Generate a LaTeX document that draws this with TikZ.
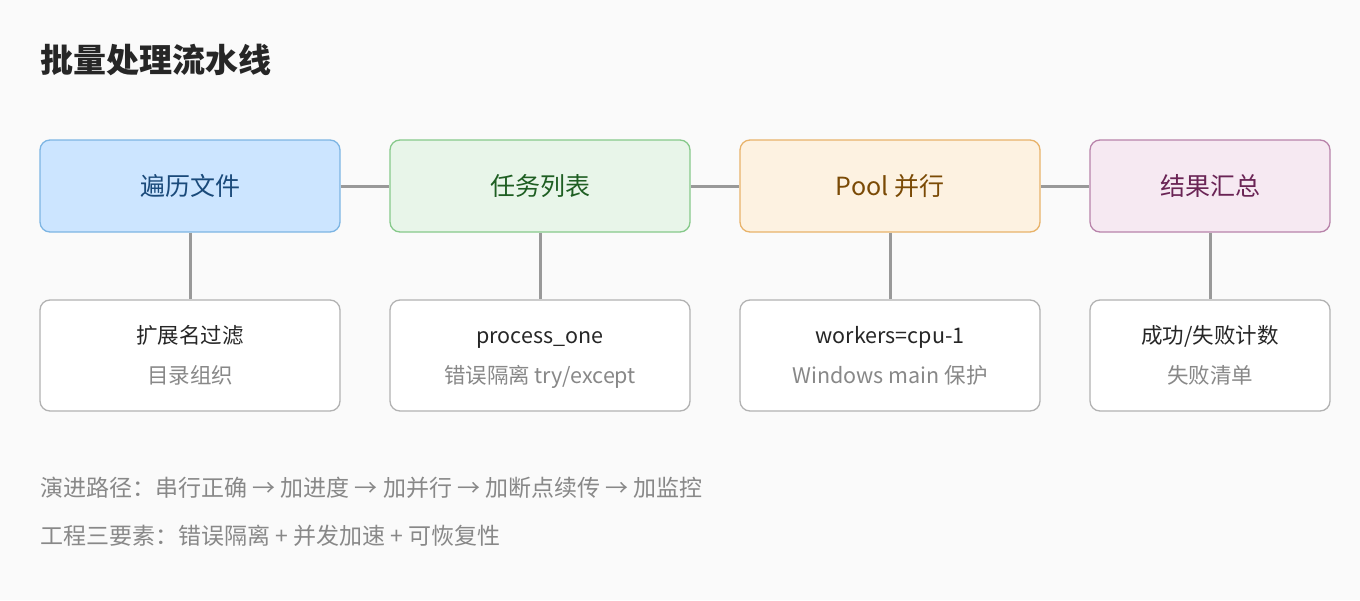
\documentclass[tikz,border=0pt]{standalone}
\usepackage{fontspec}
\setmainfont{Noto Sans CJK SC}
\usetikzlibrary{positioning}
\definecolor{bgc}{HTML}{FAFAFA}
\definecolor{linec}{HTML}{999999}
\definecolor{blueF}{HTML}{CCE5FF}\definecolor{blueD}{HTML}{7DB5E3}\definecolor{blueT}{HTML}{1A4A7A}
\definecolor{greenF}{HTML}{E8F5E9}\definecolor{greenD}{HTML}{86C98A}\definecolor{greenT}{HTML}{1E5E22}
\definecolor{orangeF}{HTML}{FDF2E1}\definecolor{orangeD}{HTML}{E8B36A}\definecolor{orangeT}{HTML}{7A4A05}
\definecolor{purpleF}{HTML}{F6E9F2}\definecolor{purpleD}{HTML}{B883AA}\definecolor{purpleT}{HTML}{6A2455}
\definecolor{subc}{HTML}{888888}
\newcommand{\twoline}[2]{\textcolor{black!85}{\vphantom{Ág}#1}\\\textcolor{subc}{\vphantom{Ág}#2}}

\begin{document}
\begin{tikzpicture}[x=1pt, y=-1pt,
    stage/.style={draw, line width=1.3pt, rounded corners=10pt, minimum height=92pt, font=\fontsize{25}{28}\selectfont},
    info/.style={draw=black!30, fill=white, line width=1.3pt, rounded corners=10pt, minimum height=111pt, align=center, font=\fontsize{21.5}{40}\selectfont},
    link/.style={linec, line width=3pt}
]
    \fill[bgc] (0,0) rectangle (1360,600);
    \useasboundingbox (0,0) rectangle (1360,600);

    % Title
    \node[anchor=west, font=\fontsize{33}{36}\selectfont\bfseries, text=black!85] (title) at (37,60) {批量处理流水线};

    % Stages
    \node[stage, fill=blueF, draw=blueD, text=blueT, minimum width=300pt] (scan) at (190,186) {遍历文件};
    \node[stage, fill=greenF, draw=greenD, text=greenT, minimum width=300pt] (tasks) at (540,186) {任务列表};
    \node[stage, fill=orangeF, draw=orangeD, text=orangeT, minimum width=300pt] (pool) at (890,186) {Pool 并行};
    \node[stage, fill=purpleF, draw=purpleD, text=purpleT, minimum width=240pt] (summary) at (1210,186) {结果汇总};

    % Details
    \node[info, minimum width=300pt] (scanInfo) at (190,355.5) {\twoline{扩展名过滤}{目录组织}};
    \node[info, minimum width=300pt] (tasksInfo) at (540,355.5) {\twoline{process\_one}{错误隔离 try/except}};
    \node[info, minimum width=300pt] (poolInfo) at (890,355.5) {\twoline{workers=cpu-1}{Windows main 保护}};
    \node[info, minimum width=240pt] (summaryInfo) at (1210,355.5) {\twoline{成功/失败计数}{失败清单}};

    % Links
    \draw[link] (scan) -- (tasks);
    \draw[link] (tasks) -- (pool);
    \draw[link] (pool) -- (summary);
    \foreach \s in {scan, tasks, pool, summary}
        \draw[link] (\s.south) -- (\s Info.north);

    % Notes
    \node[anchor=west, text=subc, font=\fontsize{23}{26}\selectfont] (path) at (37,488) {演进路径：串行正确 → 加进度 → 加并行 → 加断点续传 → 加监控};
    \node[anchor=west, text=subc, font=\fontsize{23}{26}\selectfont] (pillars) at (37,536) {工程三要素：错误隔离 + 并发加速 + 可恢复性};
\end{tikzpicture}
\end{document}
